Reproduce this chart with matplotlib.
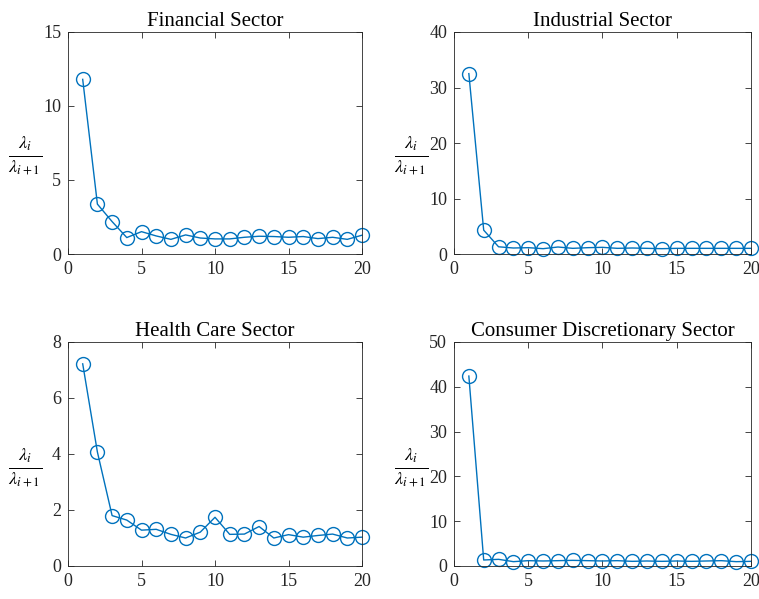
import matplotlib.pyplot as plt
import numpy as np

plt.rcParams['font.family'] = ['Liberation Serif', 'DejaVu Serif']
plt.rcParams['mathtext.fontset'] = 'stix'

BLUE = '#0072BD'
TEXT = '#262626'

eig_index = np.arange(1, 21)

financial = [11.8, 3.37, 2.19, 1.11, 1.51, 1.22, 0.99, 1.29, 1.08, 1.02,
             1.02, 1.13, 1.20, 1.18, 1.13, 1.18, 1.04, 1.13, 0.99, 1.27]
industrial = [32.5, 4.3, 1.3, 1.08, 1.14, 0.96, 1.26, 1.02, 1.14, 1.20,
              1.02, 1.08, 1.02, 0.96, 1.02, 1.02, 1.02, 1.02, 1.02, 1.02]
health_care = [7.22, 4.07, 1.80, 1.64, 1.28, 1.31, 1.13, 1.00, 1.21, 1.74,
               1.13, 1.14, 1.41, 1.00, 1.12, 1.03, 1.09, 1.14, 1.00, 1.03]
consumer_disc = [42.4, 1.34, 1.49, 0.97, 1.19, 1.12, 1.19, 1.26, 1.19, 1.12,
                 1.19, 1.04, 1.12, 1.04, 1.12, 1.04, 1.12, 1.19, 0.97, 1.04]

panels = [
    ('Financial Sector', financial, 15, [0, 5, 10, 15]),
    ('Industrial Sector', industrial, 40, [0, 10, 20, 30, 40]),
    ('Health Care Sector', health_care, 8, [0, 2, 4, 6, 8]),
    ('Consumer Discretionary Sector', consumer_disc, 50, [0, 10, 20, 30, 40, 50]),
]

# axes boxes in pixels from the top-left corner (x0, y0, x1, y1)
W, H = 759, 599
boxes = [
    (68, 32, 362, 254),
    (454, 32, 751, 254),
    (68, 342, 362, 566),
    (454, 342, 751, 566),
]

fig = plt.figure(figsize=(W / 100, H / 100), dpi=100)

for (title, values, ymax, yticks), (x0, y0, x1, y1) in zip(panels, boxes):
    ax = fig.add_axes([x0 / W, 1 - y1 / H, (x1 - x0) / W, (y1 - y0) / H])
    ax.plot(eig_index, values, color=BLUE, linewidth=1.0, marker='o',
            markersize=10, markerfacecolor='none', markeredgewidth=1.0,
            clip_on=False)
    ax.set_xlim(0, 20)
    ax.set_ylim(0, ymax)
    ax.set_xticks([0, 5, 10, 15, 20])
    ax.set_yticks(yticks)
    ax.tick_params(direction='in', top=True, right=True, length=4,
                   labelsize=13, colors=TEXT, width=0.6, pad=5)
    for spine in ax.spines.values():
        spine.set_color(TEXT)
        spine.set_linewidth(0.6)
    ax.set_title(title, fontsize=15, color='black', pad=4)
    # ratio label sits to the left of the tick labels, unrotated
    ax.set_ylabel(r'$\frac{\lambda_i}{\lambda_{i+1}}$', fontsize=19,
                  rotation=0, color='black', ha='center', va='center')
    ax.yaxis.set_label_coords(-0.145, 0.44)

fig.savefig('out.png', dpi=100)
